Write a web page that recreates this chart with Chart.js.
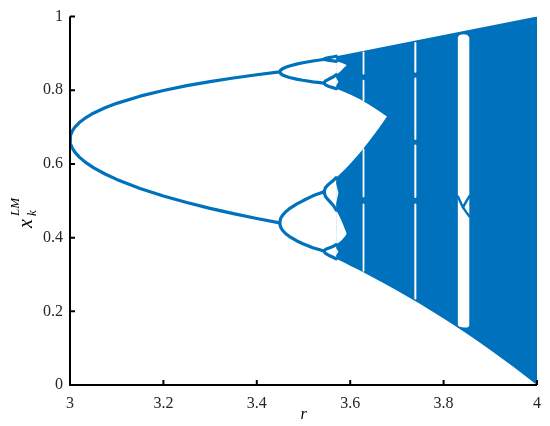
<!DOCTYPE html>
<html>
<head>
<meta charset="utf-8">
<script src="https://cdn.jsdelivr.net/npm/chart.js@4.4.1/dist/chart.umd.min.js"></script>
<style>
html,body{margin:0;padding:0;background:#fff;}
#wrap{width:550px;height:426px;position:relative;}
</style>
</head>
<body>
<div id="wrap"><canvas id="c" width="550" height="426"></canvas></div>
<script>
// ---------- tick labels ----------
const xTickValues = [3, 3.2, 3.4, 3.6, 3.8, 4];
const xTickLabels = ['3', '3.2', '3.4', '3.6', '3.8', '4'];
const yTickValues = [0, 0.2, 0.4, 0.6, 0.8, 1];
const yTickLabels = ['0', '0.2', '0.4', '0.6', '0.8', '1'];

// ---------- period-2 branches (r, upper x, lower x) ----------
const r2 = [3.000, 3.001, 3.005, 3.010, 3.020, 3.035, 3.050, 3.075, 3.100, 3.150, 3.200, 3.250, 3.300, 3.350, 3.400, 3.449];
const x2Upper = [0.6667, 0.6772, 0.6900, 0.6994, 0.7125, 0.7267, 0.7377, 0.7525, 0.7645, 0.7840, 0.7995, 0.8125, 0.8236, 0.8334, 0.8422, 0.8499];
const x2Lower = [0.6667, 0.6561, 0.6428, 0.6328, 0.6186, 0.6028, 0.5902, 0.5727, 0.5581, 0.5335, 0.5130, 0.4952, 0.4794, 0.4651, 0.4520, 0.4401];

// ---------- period-4 branches ----------
const r4 = [3.449, 3.451, 3.455, 3.462, 3.470, 3.485, 3.4986, 3.520, 3.535, 3.544];
const x4A1 = [0.8499, 0.8549, 0.8583, 0.8624, 0.8659, 0.8710, 0.8747, 0.8795, 0.8823, 0.8839];
const x4A2 = [0.8499, 0.8453, 0.8417, 0.8380, 0.8347, 0.8304, 0.8272, 0.8230, 0.8207, 0.8195];
const x4B1 = [0.4401, 0.4518, 0.4605, 0.4702, 0.4788, 0.4909, 0.5000, 0.5135, 0.5202, 0.5242];
const x4B2 = [0.4401, 0.4284, 0.4201, 0.4106, 0.4029, 0.3917, 0.3836, 0.3728, 0.3669, 0.3634];

// ---------- period-8 branches ----------
const r8 = [3.544, 3.547, 3.5546, 3.5644, 3.5699];
const x8A1p = [0.8839, 0.8870, 0.8887, 0.8910, 0.8925];
const x8A1m = [0.8839, 0.8830, 0.8812, 0.8799, 0.8785];
const x8A2p = [0.8195, 0.8253, 0.8305, 0.8368, 0.8420];
const x8A2m = [0.8195, 0.8147, 0.8105, 0.8066, 0.8040];
const x8B1p = [0.5242, 0.5358, 0.5459, 0.5559, 0.5626];
const x8B1m = [0.5242, 0.5116, 0.5003, 0.4866, 0.4749];
const x8B2p = [0.3634, 0.3681, 0.3721, 0.3767, 0.3811];
const x8B2m = [0.3634, 0.3573, 0.3517, 0.3461, 0.3425];

// ---------- chaotic region envelope ----------
const rChaosTop = [3.5699, 3.6, 3.7, 3.8, 3.9, 4.0];
const xChaosTop = [0.8925, 0.9000, 0.9250, 0.9500, 0.9750, 1.0000];
const rChaosBottom = [4.0, 3.975, 3.95, 3.925, 3.9, 3.875, 3.85, 3.825, 3.8, 3.775, 3.75, 3.725, 3.7, 3.675, 3.65, 3.62, 3.6, 3.59, 3.58, 3.5699];
const xChaosBottom = [0.0, 0.0247, 0.0488, 0.0722, 0.0951, 0.1173, 0.1390, 0.1600, 0.1805, 0.2004, 0.2197, 0.2385, 0.2567, 0.2743, 0.2914, 0.3112, 0.3240, 0.3303, 0.3364, 0.3425];
// inner gap between the two bands
const rHoleLower = [3.5699, 3.58, 3.59, 3.6, 3.62, 3.64, 3.66, 3.67, 3.6786];
const xHoleLower = [0.5626, 0.5745, 0.5871, 0.6004, 0.6293, 0.6608, 0.6948, 0.7126, 0.7286];
const rHoleUpper = [3.6786, 3.67, 3.66, 3.64, 3.62, 3.6, 3.59, 3.58, 3.5699];
const xHoleUpper = [0.7286, 0.7363, 0.7453, 0.7617, 0.7760, 0.7885, 0.7941, 0.7992, 0.8040];

// four-band gaps
const rGap4 = [3.5699, 3.575, 3.58, 3.585, 3.59, 3.5925];
const xGapUpTop = [0.8785, 0.8770, 0.8752, 0.8729, 0.8703, 0.8680];
const xGapUpBot = [0.8420, 0.8471, 0.8526, 0.8588, 0.8653, 0.8680];
const xGapLoTop = [0.4749, 0.4630, 0.4500, 0.4348, 0.4185, 0.4110];
const xGapLoBot = [0.3811, 0.3858, 0.3912, 0.3978, 0.4053, 0.4110];

// small eyes closing just after onset of chaos
const rEye = [3.5699, 3.5746, 3.5699];
const xEyeA2 = [0.8340, 0.8230, 0.8120];
const xEyeB1 = [0.5470, 0.5210, 0.4930];
const xEyeB2 = [0.3720, 0.3620, 0.3520];

// periodic windows
const rWin6 = 3.6285;
const win6Top = [0.903, 0.826, 0.640, 0.490];
const win6Bot = [0.845, 0.772, 0.512, 0.310];
const rWin5 = 3.7395;
const win5Top = [0.928, 0.832, 0.650, 0.490];
const win5Bot = [0.850, 0.668, 0.510, 0.235];
const rWin3 = [3.8305, 3.834, 3.843, 3.851, 3.855];
const win3Top = [0.944, 0.950, 0.952, 0.950, 0.944];
const win3Bot = [0.162, 0.158, 0.156, 0.156, 0.160];
const rP3Mid = [3.8305, 3.836, 3.8415, 3.848, 3.855];
const xP3Mid = [0.512, 0.497, 0.482, 0.470, 0.458];
const rP3Split = [3.8415, 3.848, 3.855];
const xP3Split = [0.482, 0.497, 0.512];

// ---------- build ----------
const BLUE = '#0072BD';
const pts = (rs, vs) => rs.map((r, i) => ({x: r, y: vs[i]}));
const rev = a => a.slice().reverse();

function lineDs(data, opts) {
  return Object.assign({
    data, borderColor: BLUE, borderWidth: 3.2, pointRadius: 0, fill: false,
    tension: 0, borderJoinStyle: 'round', borderCapStyle: 'round', order: 1
  }, opts || {});
}
function shapeDs(data, color, order) {
  return {
    data, borderColor: 'rgba(0,0,0,0)', borderWidth: 0, backgroundColor: color,
    pointRadius: 0, fill: 'shape', tension: 0, order
  };
}
function stripe(r, tops, bots) {
  const out = [];
  tops.forEach((t, i) => { out.push({x: r, y: t}, {x: r, y: bots[i]}, {x: r, y: null}); });
  return out;
}

const chaosPoly = [
  ...pts(rChaosTop, xChaosTop),
  ...pts(rChaosBottom, xChaosBottom),
  ...pts(rHoleLower, xHoleLower),
  ...pts(rHoleUpper, xHoleUpper)
];

const mainPath = [
  ...rev(pts(r4, x4A1)),
  ...rev(pts(r2, x2Upper)),
  ...pts(r2, x2Lower).slice(1),
  ...pts(r4, x4B1).slice(1)
];

const datasets = [
  shapeDs(chaosPoly, BLUE, 10),
  shapeDs([...pts(rGap4, xGapUpTop), ...rev(pts(rGap4, xGapUpBot))], '#ffffff', 5),
  shapeDs([...pts(rGap4, xGapLoTop), ...rev(pts(rGap4, xGapLoBot))], '#ffffff', 5),
  shapeDs(pts(rEye, xEyeA2), '#ffffff', 5),
  shapeDs(pts(rEye, xEyeB1), '#ffffff', 5),
  shapeDs(pts(rEye, xEyeB2), '#ffffff', 5),
  shapeDs([...pts(rWin3, win3Top), ...rev(pts(rWin3, win3Bot))], '#ffffff', 5),
  lineDs(stripe(rWin6, win6Top, win6Bot), {borderColor: '#ffffff', borderWidth: 1.8, borderCapStyle: 'butt', order: 5}),
  lineDs(stripe(rWin5, win5Top, win5Bot), {borderColor: '#ffffff', borderWidth: 2, borderCapStyle: 'butt', order: 5}),
  lineDs(mainPath),
  lineDs(pts(r4, x4A2)),
  lineDs(pts(r4, x4B2)),
  lineDs(pts(r8, x8A1p)), lineDs(pts(r8, x8A1m)),
  lineDs(pts(r8, x8A2p)), lineDs(pts(r8, x8A2m)),
  lineDs(pts(r8, x8B1p)), lineDs(pts(r8, x8B1m)),
  lineDs(pts(r8, x8B2p)), lineDs(pts(r8, x8B2m)),
  lineDs(pts(rP3Mid, xP3Mid), {borderWidth: 2.4}),
  lineDs(pts(rP3Split, xP3Split), {borderWidth: 2.4})
];

const SERIF = '"Liberation Serif", "DejaVu Serif", serif';

const decorPlugin = {
  id: 'decor',
  afterDraw(chart) {
    const {ctx, chartArea: a, scales: {x, y}} = chart;
    ctx.save();
    ctx.strokeStyle = '#000';
    ctx.lineWidth = 2;
    ctx.lineCap = 'butt';
    ctx.beginPath();
    ctx.moveTo(a.left, a.top);
    ctx.lineTo(a.left, a.bottom);
    ctx.lineTo(a.right, a.bottom);
    ctx.stroke();
    ctx.beginPath();
    xTickValues.forEach(v => {
      const px = x.getPixelForValue(v);
      ctx.moveTo(px, a.bottom);
      ctx.lineTo(px, a.bottom - 5);
    });
    yTickValues.forEach(v => {
      const py = y.getPixelForValue(v);
      ctx.moveTo(a.left, py);
      ctx.lineTo(a.left + 5, py);
    });
    ctx.stroke();

    // x axis title
    ctx.fillStyle = '#000';
    ctx.font = 'italic 16px ' + SERIF;
    ctx.textAlign = 'center';
    ctx.textBaseline = 'middle';
    ctx.fillText('r', (a.left + a.right) / 2, 415);

    // y axis title x_k^{LM}
    ctx.translate(32, 228);
    ctx.rotate(-Math.PI / 2);
    ctx.textAlign = 'left';
    ctx.textBaseline = 'alphabetic';
    ctx.font = 'italic 20px ' + SERIF;
    ctx.fillText('x', 0, 0);
    ctx.font = 'italic 13px ' + SERIF;
    ctx.fillText('LM', 12, -13);
    ctx.fillText('k', 12, 4);
    ctx.restore();
  }
};

new Chart(document.getElementById('c'), {
  type: 'line',
  data: {datasets},
  options: {
    responsive: false,
    animation: false,
    events: [],
    devicePixelRatio: 1,
    layout: {padding: {left: 0, right: 10, top: 15, bottom: 0}},
    plugins: {legend: {display: false}, tooltip: {enabled: false}},
    scales: {
      x: {
        type: 'linear', min: 3, max: 4,
        grid: {display: false, drawTicks: false},
        border: {display: false},
        afterBuildTicks: s => { s.ticks = xTickValues.map(v => ({value: v})); },
        afterFit: s => { s.height = 41; },
        ticks: {
          padding: 9, color: '#262626', maxRotation: 0, autoSkip: false,
          font: {family: SERIF, size: 16},
          callback: (v, i) => xTickLabels[i]
        }
      },
      y: {
        type: 'linear', min: 0, max: 1,
        grid: {display: false, drawTicks: false},
        border: {display: false},
        afterBuildTicks: s => { s.ticks = yTickValues.map(v => ({value: v})); },
        afterFit: s => { s.width = 70; },
        ticks: {
          padding: 7, color: '#262626', autoSkip: false,
          font: {family: SERIF, size: 16},
          callback: (v, i) => yTickLabels[i]
        }
      }
    }
  },
  plugins: [decorPlugin]
});
</script>
</body>
</html>
